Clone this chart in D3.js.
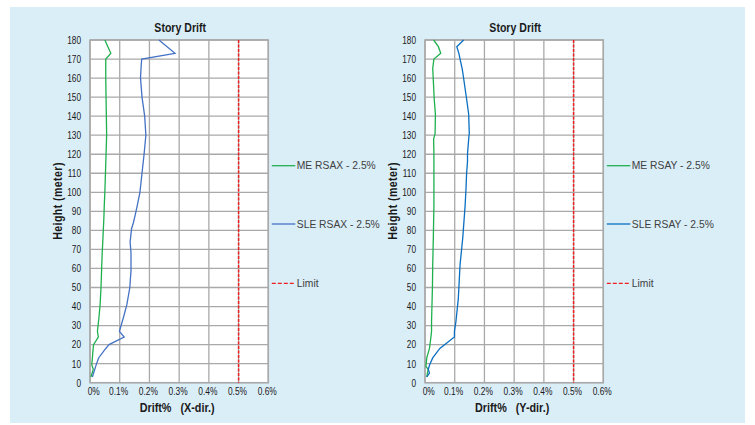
<!DOCTYPE html>
<html>
<head>
<meta charset="utf-8">
<script src="https://cdn.jsdelivr.net/npm/d3@7"></script>
<style>
  html, body { margin: 0; padding: 0; background: #ffffff; }
  svg { display: block; }
  text { font-family: "Liberation Sans", Arial, sans-serif; }
</style>
</head>
<body>
<svg id="chart" width="755" height="425"></svg>
<script>
// Story drift profiles (drift in %, height in metres)
const heightsX = [3, 7, 9.5, 13, 17, 20, 24, 27, 34, 41, 50, 59, 68, 74, 81, 84, 88, 93, 100, 110, 120, 130, 140, 150, 160, 166, 170, 173, 180];
const meRsax  = [0.003, 0.011, 0.006, 0.008, 0.010, 0.012, 0.028, 0.025, 0.030, 0.034, 0.037, 0.039, 0.041, 0.043, 0.045, 0.046, 0.047, 0.048, 0.050, 0.052, 0.054, 0.056, 0.055, 0.054, 0.053, 0.053, 0.053, 0.070, 0.050];
const sleRsax = [0.008, 0.016, 0.021, 0.029, 0.048, 0.064, 0.115, 0.099, 0.112, 0.124, 0.134, 0.138, 0.138, 0.135, 0.140, 0.146, 0.152, 0.159, 0.168, 0.175, 0.182, 0.188, 0.184, 0.175, 0.170, 0.172, 0.174, 0.286, 0.232];

const heightsY = [3, 5, 7, 8.5, 10, 13, 18, 24, 27, 32, 44, 50, 62, 76, 93, 102, 110, 116, 120, 128, 131, 141, 149, 162, 165, 170, 173, 176.5, 180];
const meRsay  = [0.006, 0.008, 0.011, 0.003, 0.004, 0.006, 0.015, 0.020, 0.022, 0.022, 0.024, 0.025, 0.026, 0.028, 0.030, 0.030, 0.030, 0.030, 0.030, 0.029, 0.034, 0.035, 0.031, 0.027, 0.026, 0.030, 0.053, 0.045, 0.029];
const sleRsay = [0.006, 0.015, 0.011, 0.014, 0.017, 0.026, 0.050, 0.099, 0.099, 0.104, 0.112, 0.114, 0.118, 0.127, 0.135, 0.138, 0.140, 0.143, 0.143, 0.147, 0.149, 0.147, 0.140, 0.128, 0.125, 0.118, 0.114, 0.107, 0.130];

const driftLimit = 0.5;
const xTicks = [0, 0.1, 0.2, 0.3, 0.4, 0.5, 0.6];
const yTicks = d3.range(0, 181, 10);

const panels = [
  { left: 90,  dir: "X", heights: heightsX, me: meRsax, sle: sleRsax,
    meName: "ME RSAX - 2.5%", sleName: "SLE RSAX - 2.5%", sleColor: "#4472c4" },
  { left: 425, dir: "Y", heights: heightsY, me: meRsay, sle: sleRsay,
    meName: "ME RSAY - 2.5%", sleName: "SLE RSAY - 2.5%", sleColor: "#0a6fc2" }
];

const svg = d3.select("#chart");
const meColor = "#1fb04e";
const limitColor = "#f01e1e";
const gridColor = "#a9a9a9";
const inkColor = "#1a1a1a";

// light blue backdrop
svg.append("rect").attr("x", 10).attr("y", 7).attr("width", 735).attr("height", 416).attr("fill", "#daeef8");

const plotW = 178.3, plotTop = 40, plotBottom = 382.7;

// condensed-looking text: regular face squeezed horizontally
function squeezedText(parent, x, y, str, size, sx, opts = {}) {
  const t = parent.append("g").attr("transform", `translate(${x},${y})${opts.rotate ? " rotate(" + opts.rotate + ")" : ""}`)
    .append("text")
    .attr("transform", `scale(${sx},1)`)
    .attr("text-anchor", opts.anchor || "middle")
    .attr("font-size", size)
    .attr("font-weight", opts.bold ? "bold" : "normal")
    .attr("fill", inkColor)
    .style("white-space", "pre")
    .text(str);
  if (opts.spacing) t.attr("letter-spacing", opts.spacing);
  return t;
}

panels.forEach(p => {
  const x = d3.scaleLinear().domain([0, 0.6]).range([p.left, p.left + plotW]);
  const y = d3.scaleLinear().domain([0, 180]).range([plotBottom, plotTop]);
  const g = svg.append("g");

  g.append("rect").attr("x", x(0)).attr("y", plotTop).attr("width", plotW).attr("height", plotBottom - plotTop).attr("fill", "#ffffff");

  // grid
  g.append("g").selectAll("line").data(yTicks).join("line")
    .attr("x1", x(0)).attr("x2", x(0.6)).attr("y1", d => y(d)).attr("y2", d => y(d))
    .attr("stroke", gridColor).attr("stroke-width", 1.3);
  g.append("g").selectAll("line").data(xTicks).join("line")
    .attr("x1", d => x(d)).attr("x2", d => x(d)).attr("y1", plotTop).attr("y2", plotBottom)
    .attr("stroke", gridColor).attr("stroke-width", 1.3);
  g.append("rect").attr("x", x(0)).attr("y", plotTop).attr("width", plotW).attr("height", plotBottom - plotTop)
    .attr("fill", "none").attr("stroke", gridColor).attr("stroke-width", 1.5);

  // axes
  const yAxis = g.append("g").attr("transform", `translate(${x(0) - 9},0)`)
    .call(d3.axisLeft(y).tickValues(yTicks).tickSize(0).tickPadding(0));
  yAxis.select(".domain").remove();
  yAxis.selectAll("text").attr("font-size", 10.5).attr("fill", inkColor)
    .attr("font-family", "Liberation Sans, Arial, sans-serif")
    .attr("transform", "scale(0.79,1)");

  const xAxis = g.append("g").attr("transform", `translate(0,${plotBottom + 5})`)
    .call(d3.axisBottom(x).tickValues(xTicks).tickSize(0).tickPadding(0).tickFormat(d => d + "%"));
  xAxis.select(".domain").remove();
  xAxis.selectAll("text").attr("font-size", 10.5).attr("fill", inkColor)
    .attr("font-family", "Liberation Sans, Arial, sans-serif")
    .attr("transform", "scale(0.8,1)")
    .attr("dx", d => d === 0 ? 4 : -2);

  // limit
  g.append("line").attr("x1", x(driftLimit)).attr("x2", x(driftLimit)).attr("y1", plotTop).attr("y2", plotBottom)
    .attr("stroke", limitColor).attr("stroke-width", 1.5).attr("stroke-dasharray", "3,1.5");

  const line = d3.line().x(d => x(d[0])).y(d => y(d[1]));
  g.append("path").datum(p.me.map((v, i) => [v, p.heights[i]])).attr("d", line)
    .attr("fill", "none").attr("stroke", meColor).attr("stroke-width", 1.3);
  g.append("path").datum(p.sle.map((v, i) => [v, p.heights[i]])).attr("d", line)
    .attr("fill", "none").attr("stroke", p.sleColor).attr("stroke-width", 1.3);

  // titles
  const cx = x(0.3);
  squeezedText(g, cx + 1, 32, "Story Drift", 12, 0.88, { bold: true });
  squeezedText(g, cx - 2, 412, "Drift%   (" + p.dir + "-dir.)", 12, 0.9, { bold: true });
  squeezedText(g, x(0) - 28, 201, "Height (meter)", 12, 0.88, { bold: true, rotate: -90, spacing: 0.5 });

  // legend
  const lx = x(0.6) + 3.5;
  const items = [
    { name: p.meName, color: meColor, dash: null, yy: 165.7 },
    { name: p.sleName, color: p.sleColor, dash: null, yy: 224 },
    { name: "Limit", color: limitColor, dash: "4,2", yy: 283.3 }
  ];
  const lg = g.append("g").selectAll("g").data(items).join("g");
  lg.append("line").attr("x1", lx).attr("x2", lx + 23.5).attr("y1", d => d.yy).attr("y2", d => d.yy)
    .attr("stroke", d => d.color).attr("stroke-width", 1.3).attr("stroke-dasharray", d => d.dash);
  lg.append("text").attr("x", lx + 25).attr("y", d => d.yy).attr("dy", "0.35em")
    .attr("font-size", 10.3).attr("fill", "#404040").text(d => d.name);
});
</script>
</body>
</html>
